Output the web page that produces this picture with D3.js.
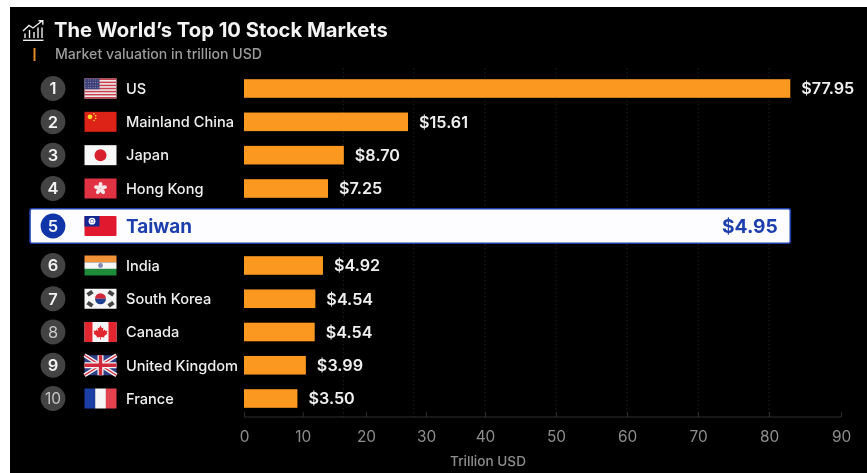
<!DOCTYPE html>
<html>
<head>
<meta charset="utf-8">
<script src="https://d3js.org/d3.v7.min.js"></script>
<style>
  html, body { margin: 0; padding: 0; background: #fff; }
  svg { display: block; font-family: Inter, "Liberation Sans", sans-serif; filter: blur(0.35px); }
</style>
</head>
<body>
<div id="chart"></div>
<script>
// Chart values
const ranks = [1, 2, 3, 4, 5, 6, 7, 8, 9, 10];
const markets = ["US", "Mainland China", "Japan", "Hong Kong", "Taiwan", "India", "South Korea", "Canada", "United Kingdom", "France"];
const valuations = [77.95, 15.61, 8.70, 7.25, 4.95, 4.92, 4.54, 4.54, 3.99, 3.50];
// The bars in the picture don't follow their labels, so these are the lengths
const barReadings = [82.96, 27.0, 16.5, 14.0, 82.96, 13.2, 12.0, 11.9, 10.5, 9.1];
const xTicks = [0, 10, 20, 30, 40, 50, 60, 70, 80, 90];
const gridReadings = [16.4, 28, 40, 50, 60, 70, 80];
const highlight = "Taiwan";

const svgWidth = 867, svgHeight = 473;

const svg = d3.select("#chart").append("svg")
  .attr("width", svgWidth)
  .attr("height", svgHeight);

// Black panel
svg.append("rect")
  .attr("x", 10).attr("y", 7)
  .attr("width", svgWidth - 10).attr("height", svgHeight - 7)
  .attr("fill", "#000");

// The axis ticks in the picture are unevenly spaced, so the scale has one stop per tick
const xScale = d3.scaleLinear()
  .domain(xTicks)
  .range([244, 302.7, 366, 426, 485, 556, 627, 698, 769, 841]);

// Rows are even, except for the taller highlighted one
const yScale = d3.scaleLinear()
  .domain([1, 4, 5, 6, 10])
  .range([88.5, 188.5, 226, 265.5, 398.5]);

const barHeight = 18.6;

// Title block
const icon = svg.append("g")
  .attr("fill", "none")
  .attr("stroke", "#eee")
  .attr("stroke-width", 1.4);
icon.append("path").attr("d", "M23 40.3H43.5");
icon.append("path").attr("d", "M25 38V33.5M29.5 38V30M34 38V32M38 38V27.5M42 38V27.5");
icon.append("path").attr("d", "M23 31L29 25.5L33 28L42 21M38.5 20.8H42.8V24.8");

svg.append("rect")
  .attr("x", 33.5).attr("y", 48)
  .attr("width", 2).attr("height", 13)
  .attr("fill", "#e08a2a");

svg.append("text")
  .attr("x", 54).attr("y", 37)
  .attr("fill", "#f4f4f4")
  .attr("font-size", 20.2)
  .attr("font-weight", 700)
  .text("The World’s Top 10 Stock Markets");

svg.append("text")
  .attr("x", 55).attr("y", 59)
  .attr("fill", "#9c9c9c")
  .attr("font-size", 14.1)
  .attr("font-weight", 500)
  .text("Market valuation in trillion USD");

// Dotted gridlines
svg.append("g").selectAll("line")
  .data(gridReadings)
  .enter()
  .append("line")
  .attr("x1", d => xScale(d))
  .attr("x2", d => xScale(d))
  .attr("y1", 68)
  .attr("y2", 417)
  .attr("stroke", "#202020")
  .attr("stroke-dasharray", "1.5 2.5");

// Axis
const xAxis = d3.axisBottom(xScale)
  .tickValues(xTicks)
  .tickSize(-5)
  .tickPadding(14);

const axisGroup = svg.append("g")
  .attr("transform", "translate(0, 417)")
  .call(xAxis);

axisGroup.select(".domain").attr("stroke", "#2e2e2e").attr("d", "M244,0H841");
axisGroup.selectAll(".tick line").attr("stroke", "#2e2e2e");
axisGroup.selectAll(".tick text")
  .attr("fill", "#8e8e8e")
  .attr("font-size", 15.4)
  .attr("font-family", "Inter, sans-serif");

svg.append("text")
  .attr("x", 488).attr("y", 466)
  .attr("text-anchor", "middle")
  .attr("fill", "#8e8e8e")
  .attr("font-size", 13.6)
  .attr("font-weight", 500)
  .text("Trillion USD");

// Rows
const rows = ranks.map((rank, i) => ({
  rank: rank,
  market: markets[i],
  value: valuations[i],
  reading: barReadings[i]
}));

// Highlighted row background
svg.selectAll(".highlightRow")
  .data(rows.filter(d => d.market === highlight))
  .enter()
  .append("rect")
  .attr("class", "highlightRow")
  .attr("x", 30)
  .attr("y", d => yScale(d.rank) - 17.2)
  .attr("width", d => xScale(d.reading) - 30)
  .attr("height", 34.4)
  .attr("rx", 2)
  .attr("fill", "#fdfdff")
  .attr("stroke", "#1d3ea8")
  .attr("stroke-width", 1.6);

// Bars
svg.selectAll(".bar")
  .data(rows.filter(d => d.market !== highlight))
  .enter()
  .append("rect")
  .attr("class", "bar")
  .attr("x", xScale(0))
  .attr("y", d => yScale(d.rank) - barHeight / 2)
  .attr("width", d => xScale(d.reading) - xScale(0))
  .attr("height", barHeight)
  .attr("fill", "#fb981f");

// Value labels
svg.selectAll(".valueLabel")
  .data(rows)
  .enter()
  .append("text")
  .attr("class", "valueLabel")
  .attr("x", d => d.market === highlight ? xScale(d.reading) - 12.5 : xScale(d.reading) + 11)
  .attr("y", d => yScale(d.rank))
  .attr("dy", "0.36em")
  .attr("text-anchor", d => d.market === highlight ? "end" : "start")
  .attr("fill", d => d.market === highlight ? "#1d3fae" : "#efefef")
  .attr("font-size", d => d.market === highlight ? 19.2 : 16.2)
  .attr("font-weight", d => d.market === highlight ? 700 : 600)
  .text(d => `$${d.value.toFixed(2)}`);

// Rank badges
svg.selectAll(".badge")
  .data(rows)
  .enter()
  .append("circle")
  .attr("class", "badge")
  .attr("cx", 53)
  .attr("cy", d => yScale(d.rank))
  .attr("r", 12.4)
  .attr("fill", d => d.market === highlight ? "#0f35a8" : "#434343");

svg.selectAll(".rankLabel")
  .data(rows)
  .enter()
  .append("text")
  .attr("class", "rankLabel")
  .attr("x", 53)
  .attr("y", d => yScale(d.rank))
  .attr("dy", "0.36em")
  .attr("text-anchor", "middle")
  .attr("fill", d => d.rank === 8 || d.rank === 10 ? "#c8c8c8" : "#f2f2f2")
  .attr("font-size", d => d.rank === 10 ? 15.5 : 16.5)
  .attr("font-weight", d => d.rank === 8 || d.rank === 10 ? 400 : 600)
  .text(d => d.rank);

// Market names
svg.selectAll(".marketLabel")
  .data(rows)
  .enter()
  .append("text")
  .attr("class", "marketLabel")
  .attr("x", 126)
  .attr("y", d => yScale(d.rank))
  .attr("dy", "0.36em")
  .attr("fill", d => d.market === highlight ? "#1d3fae" : "#efefef")
  .attr("font-size", d => d.market === highlight ? 18.9 : 14.6)
  .attr("font-weight", d => d.market === highlight ? 700 : 500)
  .text(d => d.market);

// Flags, each drawn in a 32x20 box
const flagDrawers = {
  "US": g => {
    g.append("rect").attr("width", 32).attr("height", 20).attr("fill", "#f2f2f2");
    d3.range(0, 7).forEach(i => {
      g.append("rect").attr("y", i * 3.08).attr("width", 32).attr("height", 1.54).attr("fill", "#c8404f");
    });
    g.append("rect").attr("width", 15).attr("height", 10.8).attr("fill", "#3c3f78");
    d3.range(0, 4).forEach(r => d3.range(0, 6).forEach(c => {
      g.append("circle").attr("cx", 1.4 + c * 2.4).attr("cy", 1.4 + r * 2.6).attr("r", 0.45).attr("fill", "#dfe0ea");
    }));
  },
  "Mainland China": g => {
    g.append("rect").attr("width", 32).attr("height", 20).attr("fill", "#dd2318");
    g.append("circle").attr("cx", 5.5).attr("cy", 5).attr("r", 2.4).attr("fill", "#fbd92a");
    [[9.5, 2], [11.2, 4], [11.2, 6.6], [9.5, 8.6]].forEach(p => {
      g.append("circle").attr("cx", p[0]).attr("cy", p[1]).attr("r", 0.8).attr("fill", "#fbd92a");
    });
  },
  "Japan": g => {
    g.append("rect").attr("width", 32).attr("height", 20).attr("fill", "#f8f8f8");
    g.append("circle").attr("cx", 16).attr("cy", 10).attr("r", 6).attr("fill", "#d8202f");
  },
  "Hong Kong": g => {
    g.append("rect").attr("width", 32).attr("height", 20).attr("fill", "#e03242");
    d3.range(0, 5).forEach(i => {
      g.append("ellipse")
        .attr("cx", 16).attr("cy", 6.6)
        .attr("rx", 2).attr("ry", 3.2)
        .attr("fill", "#f8e6e6")
        .attr("transform", `rotate(${i * 72} 16 10)`);
    });
  },
  "Taiwan": g => {
    g.append("rect").attr("width", 32).attr("height", 20).attr("rx", 1).attr("fill", "#e0192e");
    g.append("rect").attr("width", 15).attr("height", 10.5).attr("fill", "#14268f");
    g.append("circle").attr("cx", 7.5).attr("cy", 5.2).attr("r", 3.4).attr("fill", "#fff");
    g.append("circle").attr("cx", 7.5).attr("cy", 5.2).attr("r", 1.9).attr("fill", "#14268f");
    g.append("circle").attr("cx", 7.5).attr("cy", 5.2).attr("r", 1.5).attr("fill", "#fff");
  },
  "India": g => {
    g.append("rect").attr("width", 32).attr("height", 6.8).attr("fill", "#f2933a");
    g.append("rect").attr("y", 6.8).attr("width", 32).attr("height", 6.6).attr("fill", "#f6f6f6");
    g.append("rect").attr("y", 13.4).attr("width", 32).attr("height", 6.6).attr("fill", "#1f8a3a");
    g.append("circle").attr("cx", 16).attr("cy", 10).attr("r", 2.4).attr("fill", "#7d88b8");
  },
  "South Korea": g => {
    g.append("rect").attr("width", 32).attr("height", 20).attr("fill", "#f6f6f6");
    g.append("path").attr("d", "M10.5 10A5.5 5.5 0 0 1 21.5 10Z").attr("fill", "#d4263a");
    g.append("path").attr("d", "M10.5 10A5.5 5.5 0 0 0 21.5 10Z").attr("fill", "#1f3f92");
    [[5.5, 4.5, -35], [26.5, 4.5, 35], [5.5, 15.5, 35], [26.5, 15.5, -35]].forEach(p => {
      g.append("rect")
        .attr("x", p[0] - 3).attr("y", p[1] - 2)
        .attr("width", 6).attr("height", 4)
        .attr("fill", "#444")
        .attr("transform", `rotate(${p[2]} ${p[0]} ${p[1]})`);
    });
  },
  "Canada": g => {
    g.append("rect").attr("width", 32).attr("height", 20).attr("fill", "#f6f6f6");
    g.append("rect").attr("width", 8).attr("height", 20).attr("fill", "#e2262f");
    g.append("rect").attr("x", 24).attr("width", 8).attr("height", 20).attr("fill", "#e2262f");
    g.append("path")
      .attr("d", "M16 3.5L17.4 6.2L19 5.4L18.4 9L20.4 7.6L21 9L23 8.6L22.2 11L23 11.6L19.6 14.2L20 15.4L16.4 15V17.5H15.6V15L12 15.4L12.4 14.2L9 11.6L9.8 11L9 8.6L11 9L11.6 7.6L13.6 9L13 5.4L14.6 6.2Z")
      .attr("fill", "#e2262f");
  },
  "United Kingdom": g => {
    g.append("rect").attr("width", 32).attr("height", 20).attr("fill", "#2f3f86");
    g.append("path").attr("d", "M0 0L32 20M32 0L0 20").attr("stroke", "#f2f2f2").attr("stroke-width", 4);
    g.append("path").attr("d", "M0 0L32 20M32 0L0 20").attr("stroke", "#d2283c").attr("stroke-width", 1.4);
    g.append("path").attr("d", "M16 0V20M0 10H32").attr("stroke", "#f2f2f2").attr("stroke-width", 6);
    g.append("path").attr("d", "M16 0V20M0 10H32").attr("stroke", "#d2283c").attr("stroke-width", 3.4);
  },
  "France": g => {
    g.append("rect").attr("width", 10.7).attr("height", 20).attr("fill", "#1c3fa6");
    g.append("rect").attr("x", 10.7).attr("width", 10.7).attr("height", 20).attr("fill", "#f6f6f6");
    g.append("rect").attr("x", 21.4).attr("width", 10.6).attr("height", 20).attr("fill", "#e5424f");
  }
};

svg.selectAll(".flag")
  .data(rows)
  .enter()
  .append("g")
  .attr("class", "flag")
  .attr("transform", d => `translate(84.5, ${yScale(d.rank) - 10})`)
  .each(function(d) { flagDrawers[d.market](d3.select(this)); });
</script>
</body>
</html>
